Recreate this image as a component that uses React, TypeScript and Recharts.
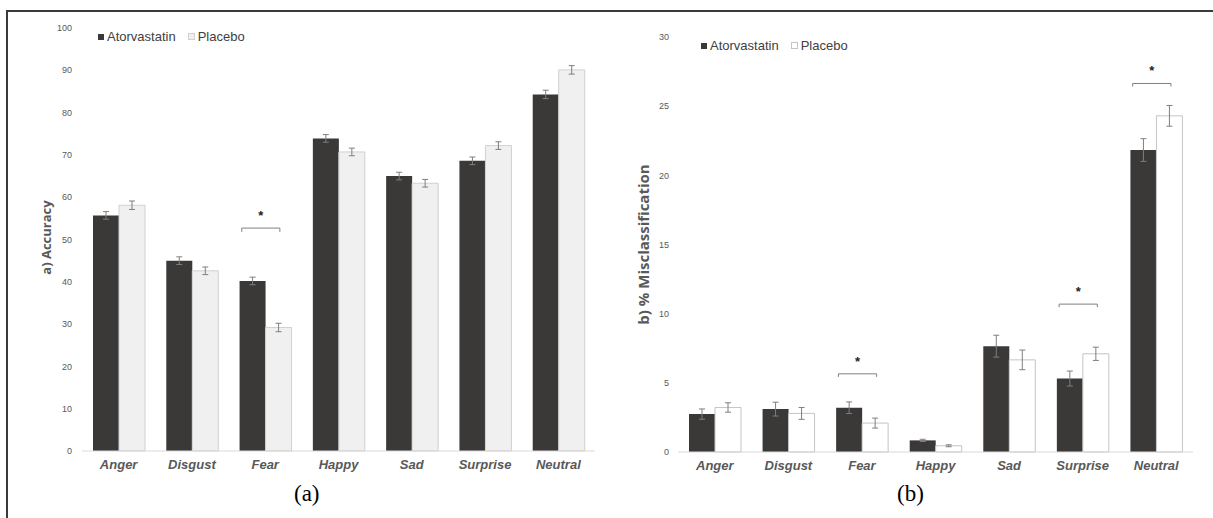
import { BarChart, Bar, XAxis, YAxis, ErrorBar, Legend, ReferenceArea } from 'recharts';

const categories = ['Anger', 'Disgust', 'Fear', 'Happy', 'Sad', 'Surprise', 'Neutral'];

// panel (a) accuracy
const accuracyAtorvastatin = [55.7, 45.0, 40.2, 73.9, 65.0, 68.6, 84.3];
const accuracyPlacebo = [58.1, 42.6, 29.2, 70.7, 63.3, 72.2, 90.1];
const accuracyAtorvastatinErr = [0.9, 0.9, 0.9, 0.9, 0.9, 0.9, 1.0];
const accuracyPlaceboErr = [1.0, 0.9, 1.0, 0.9, 0.9, 0.9, 1.0];
const accuracyTicks = [0, 10, 20, 30, 40, 50, 60, 70, 80, 90, 100];

// panel (b) misclassification
const misAtorvastatin = [2.74, 3.1, 3.2, 0.84, 7.65, 5.31, 21.83];
const misPlacebo = [3.22, 2.79, 2.09, 0.45, 6.66, 7.1, 24.3];
const misAtorvastatinErr = [0.37, 0.5, 0.42, 0.08, 0.79, 0.54, 0.82];
const misPlaceboErr = [0.34, 0.43, 0.36, 0.07, 0.71, 0.48, 0.75];
const misTicks = [0, 5, 10, 15, 20, 25, 30];

// significance brackets: category, bracket level, bottom of the end ticks
const accuracyBrackets = [{ category: 'Fear', top: 52.7, bottom: 51.8 }];
const misBrackets = [
    { category: 'Fear', top: 5.65, bottom: 5.43 },
    { category: 'Surprise', top: 10.69, bottom: 10.47 },
    { category: 'Neutral', top: 26.64, bottom: 26.42 },
];

const DARK = '#3b3838';
const TEXT = '#595959';

const accuracyData = categories.map((c, i) => ({
    name: c,
    atorvastatin: accuracyAtorvastatin[i],
    placebo: accuracyPlacebo[i],
    atorvastatinErr: accuracyAtorvastatinErr[i],
    placeboErr: accuracyPlaceboErr[i],
}));

const misData = categories.map((c, i) => ({
    name: c,
    atorvastatin: misAtorvastatin[i],
    placebo: misPlacebo[i],
    atorvastatinErr: misAtorvastatinErr[i],
    placeboErr: misPlaceboErr[i],
}));

const Bracket = (props: any) => {
    const { x, y, width, height } = props;
    const x1 = x + width * 0.18;
    const x2 = x + width * 0.7;
    return (
        <g>
            <path d={`M${x1},${y + height} V${y} H${x2} V${y + height}`} stroke="#808080" strokeWidth={1} fill="none" />
            <text x={(x1 + x2) / 2} y={y - 8} textAnchor="middle" fontSize={13} fontWeight="bold" fontFamily="Liberation Sans, Arial" fill="#222">
                *
            </text>
        </g>
    );
};

const makeLegend = (placeboFill: string, placeboStroke: string) => () => (
    <div style={{ display: 'flex', alignItems: 'center', fontFamily: 'Liberation Sans, Arial, sans-serif', fontSize: 13, color: '#404040', whiteSpace: 'nowrap' }}>
        <span style={{ display: 'inline-block', width: 6, height: 6, background: DARK, marginRight: 3 }} />
        <span>Atorvastatin</span>
        <span style={{ display: 'inline-block', width: 5, height: 5, background: placeboFill, border: `1px solid ${placeboStroke}`, marginLeft: 12, marginRight: 3 }} />
        <span>Placebo</span>
    </div>
);

const xTick = { fontSize: 13, fontWeight: 'bold', fontStyle: 'italic', fill: TEXT, fontFamily: 'Liberation Sans, Arial' };
const yTick = { fontSize: 9, fill: TEXT, fontFamily: 'Liberation Sans, Arial' };

interface PanelProps {
    data: any[];
    width: number;
    axisWidth: number;
    margin: { top: number; right: number; left: number; bottom: number };
    max: number;
    ticks: number[];
    title: string;
    titleSize: number;
    titleDy: number;
    placeboFill: string;
    placeboStroke: string;
    brackets: { category: string; top: number; bottom: number }[];
    legendTop: number;
    legendLeft: number;
    tickMargin: number;
}

const Panel = (p: PanelProps) => (
    <BarChart width={p.width} height={518} data={p.data} margin={p.margin} barGap={0} barSize={26}>
        <XAxis dataKey="name" height={30} tick={xTick} tickLine={false} axisLine={{ stroke: '#d9d9d9' }} tickSize={0} tickMargin={9} interval={0} />
        <YAxis
            domain={[0, p.max]}
            ticks={p.ticks}
            width={p.axisWidth}
            axisLine={false}
            tickLine={false}
            tickSize={0}
            tickMargin={p.tickMargin}
            tick={yTick}
            label={{ value: p.title, angle: -90, position: 'center', dx: 5, dy: p.titleDy, style: { fontSize: p.titleSize, fontWeight: 'bold', fill: TEXT, fontFamily: 'Open Sans, Liberation Sans, Arial' } }}
        />
        <Legend
            layout="horizontal"
            verticalAlign="middle"
            align="center"
            content={makeLegend(p.placeboFill, p.placeboStroke)}
            wrapperStyle={{ top: p.legendTop, left: p.legendLeft, width: 'auto', height: 'auto' }}
        />
        <Bar dataKey="atorvastatin" name="Atorvastatin" fill={DARK} isAnimationActive={false}>
            <ErrorBar dataKey="atorvastatinErr" width={3} stroke="#7f7f7f" strokeWidth={1} />
        </Bar>
        <Bar dataKey="placebo" name="Placebo" fill={p.placeboFill} stroke={p.placeboStroke} strokeWidth={1} isAnimationActive={false}>
            <ErrorBar dataKey="placeboErr" width={3} stroke="#7f7f7f" strokeWidth={1} />
        </Bar>
        {p.brackets.map((b) => (
            <ReferenceArea key={b.category} x1={b.category} x2={b.category} y1={b.bottom} y2={b.top} ifOverflow="visible" shape={Bracket} />
        ))}
    </BarChart>
);

const App = () => (
    <div style={{ position: 'absolute', left: 0, top: 0, width: 1213, height: 518, background: '#fff', overflow: 'hidden' }}>
        <div style={{ position: 'absolute', left: 6, top: 10, width: 1220, height: 520, borderTop: '2px solid #3a3a3a', borderLeft: '2px solid #3a3a3a' }} />
        <div style={{ position: 'absolute', left: 0, top: 0 }}>
            <Panel
                data={accuracyData}
                width={600}
                axisWidth={82}
                margin={{ top: 28, right: 5, left: 0, bottom: 37 }}
                max={100}
                ticks={accuracyTicks}
                title="a) Accuracy"
                titleSize={13}
                titleDy={-2}
                placeboFill="#f0f0f0"
                placeboStroke="#d0d0d0"
                brackets={accuracyBrackets}
                legendTop={29}
                legendLeft={98}
                tickMargin={10}
            />
        </div>
        <div style={{ position: 'absolute', left: 600, top: 0 }}>
            <Panel
                data={misData}
                width={613}
                axisWidth={78}
                margin={{ top: 37, right: 20, left: 0, bottom: 36 }}
                max={30}
                ticks={misTicks}
                title="b) % Misclassification"
                titleSize={15}
                titleDy={0}
                placeboFill="#ffffff"
                placeboStroke="#c4c4c4"
                brackets={misBrackets}
                legendTop={38}
                legendLeft={101}
                tickMargin={9}
            />
        </div>
        <div style={{ position: 'absolute', left: 294, top: 481, fontFamily: 'Liberation Serif, Times New Roman, serif', fontSize: 23 }}>(a)</div>
        <div style={{ position: 'absolute', left: 897, top: 481, fontFamily: 'Liberation Serif, Times New Roman, serif', fontSize: 23 }}>(b)</div>
    </div>
);

export default App;
